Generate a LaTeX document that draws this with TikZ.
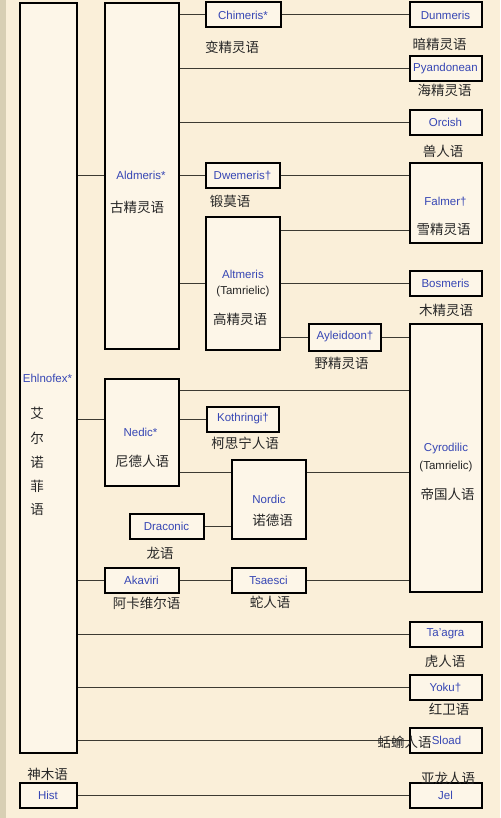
\documentclass[tikz,border=0pt]{standalone}
\usepackage{fontspec}
\setmainfont{Liberation Sans}
\newfontfamily\cjk{Noto Sans CJK SC}
\usetikzlibrary{positioning}

\definecolor{pagebg}{HTML}{FAEFD9}
\definecolor{boxbg}{HTML}{FDF6E8}
\definecolor{langblue}{HTML}{3646B4}
\definecolor{linkgray}{HTML}{3C3A32}
\definecolor{edgestrip}{HTML}{D8CFB4}

\tikzset{
  langbox/.style={draw=black, line width=2pt, fill=boxbg, inner sep=0pt,
    minimum width=72pt, minimum height=25pt,
    font=\fontsize{11.5}{13}\selectfont, text=langblue},
  enname/.style={font=\fontsize{11.5}{13}\selectfont, text=langblue, inner sep=0pt},
  zhname/.style={font=\cjk\fontsize{13.5}{15}\selectfont, text=black!85, inner sep=0pt},
  link/.style={draw=linkgray, line width=1pt},
}

\begin{document}
\begin{tikzpicture}[x=1pt, y=-1pt]
    % Page
    \fill[pagebg] (0,0) rectangle (500,818);
    \fill[edgestrip] (0,0) rectangle (6,818);
    \useasboundingbox (0,0) rectangle (500,818);

    % Tall boxes
    \node[langbox, minimum width=57pt, minimum height=750pt] (ehl) at (48,378) {};
    \node[langbox, minimum width=74pt, minimum height=346pt] (ald) at (141.5,176) {};
    \node[langbox, minimum width=74pt, minimum height=132pt] (alt) at (242.5,283.5) {};
    \node[langbox, minimum height=268pt] (cyr) at (445.5,458) {};
    \node[langbox, minimum width=74pt, minimum height=107pt] (ned) at (141.5,432) {};
    \node[langbox, minimum width=74pt, minimum height=79pt] (nor) at (268.5,499) {};
    \node[langbox, minimum height=79pt] (fal) at (445.5,203) {};

    % Small boxes
    \node[langbox, minimum width=75pt] (chim) at (243,15) {Chimeris*};
    \node[langbox] (dun) at (445.5,15) {Dunmeris};
    \node[langbox] (pya) at (445.5,68.5) {Pyandonean};
    \node[langbox] (orc) at (445.5,122.5) {Orcish};
    \node[langbox, minimum width=74pt] (dwe) at (242.5,176) {Dwemeris\textdagger};
    \node[langbox] (bos) at (445.5,283.5) {Bosmeris};
    \node[langbox, minimum height=27pt] (ayl) at (345,337) {Ayleidoon\textdagger};
    \node[langbox] (kot) at (243,419) {Kothringi\textdagger};
    \node[langbox, minimum width=74pt] (dra) at (166.5,526) {Draconic};
    \node[langbox, minimum width=74pt] (aka) at (141.5,580) {Akaviri};
    \node[langbox, minimum width=74pt] (tsa) at (268.5,580) {Tsaesci};
    \node[langbox] (taa) at (445.5,634) {Ta'agra};
    \node[langbox] (yok) at (445.5,687.5) {Yoku\textdagger};
    \node[langbox] (slo) at (445.5,740.5) {};
    \node[langbox] (jel) at (445.5,795) {Jel};
    \node[langbox, minimum width=57pt] (his) at (48,795) {Hist};

    % Connectors
    \coordinate (altfal) at (0,230);
    \coordinate (nedcyr) at (0,390);
    \coordinate (nednor) at (0,472);
    \draw[link] (ehl.east |- ald.west) -- (ald.west);
    \draw[link] (ald.east |- chim.west) -- (chim.west);
    \draw[link] (chim.east) -- (dun.west);
    \draw[link] (ald.east |- pya.west) -- (pya.west);
    \draw[link] (ald.east |- orc.west) -- (orc.west);
    \draw[link] (ald.east |- dwe.west) -- (dwe.west);
    \draw[link] (dwe.east) -- (dwe.east -| fal.west);
    \draw[link] (ald.east |- alt.west) -- (alt.west);
    \draw[link] (alt.east |- altfal) -- (fal.west |- altfal);
    \draw[link] (alt.east |- bos.west) -- (bos.west);
    \draw[link] (alt.east |- ayl.west) -- (ayl.west);
    \draw[link] (ayl.east) -- (ayl.east -| cyr.west);
    \draw[link] (ehl.east |- kot.west) -- (ned.west |- kot.west);
    \draw[link] (ned.east |- nedcyr) -- (cyr.west |- nedcyr);
    \draw[link] (ned.east |- kot.west) -- (kot.west);
    \draw[link] (ned.east |- nednor) -- (nor.west |- nednor);
    \draw[link] (nor.east |- nednor) -- (cyr.west |- nednor);
    \draw[link] (dra.east) -- (dra.east -| nor.west);
    \draw[link] (ehl.east |- aka.west) -- (aka.west);
    \draw[link] (aka.east) -- (tsa.west);
    \draw[link] (tsa.east) -- (tsa.east -| cyr.west);
    \foreach \tgt in {taa, yok, slo} {
        \draw[link] (ehl.east |- \tgt.west) -- (\tgt.west);
    }
    \draw[link] (his.east) -- (jel.west);

    % Names inside tall boxes
    \node[enname] (ehlen) at (47.5,378) {Ehlnofex*};
    \foreach \ch/\y in {艾/413, 尔/438, 诺/462, 菲/486, 语/510} {
        \node[zhname] (ehlzh\y) at (37,\y) {\ch};
    }
    \node[enname] (alden) at (141,175) {Aldmeris*};
    \node[zhname] (aldzh) at (137,207) {古精灵语};
    \node[enname] (alten) at (243,274) {Altmeris};
    \node[enname, text=black!85] (alttam) at (243,292) {(Tamrielic)};
    \node[zhname] (altzh) at (240,319) {高精灵语};
    \node[enname] (falen) at (445.5,202) {Falmer\textdagger};
    \node[zhname] (falzh) at (443.5,229) {雪精灵语};
    \node[enname] (cyren) at (446,449) {Cyrodilic};
    \node[enname, text=black!85] (cyrtam) at (446,467) {(Tamrielic)};
    \node[zhname] (cyrzh) at (447.5,494) {帝国人语};
    \node[enname] (neden) at (140.5,432) {Nedic*};
    \node[zhname] (nedzh) at (142,461) {尼德人语};
    \node[enname] (noren) at (269,499) {Nordic};
    \node[zhname] (norzh) at (272.5,520) {诺德语};

    % Names under small boxes
    \node[zhname] (chimzh) at (232,47) {变精灵语};
    \node[zhname] (dunzh) at (439.5,44) {暗精灵语};
    \node[zhname] (pyazh) at (444.5,90) {海精灵语};
    \node[zhname] (orczh) at (443,151) {兽人语};
    \node[zhname] (dwezh) at (230,201) {锻莫语};
    \node[zhname] (boszh) at (446,310) {木精灵语};
    \node[zhname] (aylzh) at (341.5,363) {野精灵语};
    \node[zhname] (kotzh) at (245,443) {柯思宁人语};
    \node[zhname] (drazh) at (160,553) {龙语};
    \node[zhname] (akazh) at (146.5,603) {阿卡维尔语};
    \node[zhname] (tsazh) at (270,602) {蛇人语};
    \node[zhname] (taazh) at (445,661) {虎人语};
    \node[zhname] (yokzh) at (449,709) {红卫语};
    \node[zhname] (slozh) at (404.5,742) {蛞蝓人语};
    \node[enname] (sloen) at (446.5,740) {Sload};
    \node[zhname] (jelzh) at (448,778) {亚龙人语};
    \node[zhname] (hiszh) at (47.5,774) {神木语};
\end{tikzpicture}
\end{document}
